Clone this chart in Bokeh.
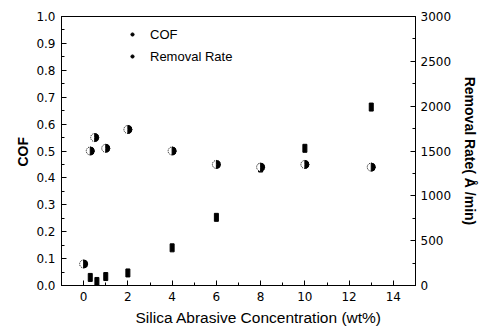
import math
from bokeh.plotting import figure
from bokeh.models import (Range1d, LinearAxis, SingleIntervalTicker, PrintfTickFormatter,
                          Legend, LegendItem, ColumnDataSource, Title)
from bokeh.embed import file_html
from bokeh.resources import INLINE

# Data
cof_x = [0, 0.3, 0.5, 1, 2, 4, 6, 8, 10, 13]
cof_y = [0.08, 0.50, 0.55, 0.51, 0.58, 0.50, 0.45, 0.44, 0.45, 0.44]
rate_x = [0.3, 0.6, 1, 2, 4, 6, 8, 10, 13]
rate_y = [90, 45, 100, 140, 420, 760, 1310, 1530, 1990]

x_label = "Silica Abrasive Concentration (wt%)"
y_label = "COF"
y2_label = "Removal Rate( Å /min)"
series_names = ["COF", "Removal Rate"]

FONT = "DejaVu Sans"
LFONT = "Liberation Sans"

p = figure(width=481, height=332, output_backend="svg", toolbar_location=None,
           x_range=Range1d(-1, 15), y_range=Range1d(0, 1.0),
           min_border_left=61, min_border_right=65, min_border_top=16, min_border_bottom=47)
p.extra_y_ranges = {"rate": Range1d(0, 3000)}
p.grid.visible = False
p.outline_line_color = "black"
p.outline_line_width = 1
p.background_fill_color = "white"
p.border_fill_color = "white"

def style_axis(ax):
    ax.major_tick_in = 5
    ax.major_tick_out = 0
    ax.minor_tick_in = 3
    ax.minor_tick_out = 0
    ax.axis_line_color = "black"
    ax.major_tick_line_color = "black"
    ax.minor_tick_line_color = "black"
    ax.major_label_text_font = FONT
    ax.major_label_text_font_size = "12px"
    ax.major_label_text_color = "black"
    ax.axis_label_text_color = "black"

xa = p.xaxis[0]
xa.ticker = SingleIntervalTicker(interval=2, num_minor_ticks=2)
style_axis(xa)
xa.major_label_standoff = 6

ya = p.yaxis[0]
ya.ticker = SingleIntervalTicker(interval=0.1, num_minor_ticks=2)
ya.formatter = PrintfTickFormatter(format="%.1f")
style_axis(ya)
ya.major_label_standoff = 6

ra = LinearAxis(y_range_name="rate", ticker=SingleIntervalTicker(interval=500, num_minor_ticks=2),
                axis_label=y2_label)
style_axis(ra)
ra.major_label_standoff = 5
ra.axis_label_standoff = 8
ra.axis_label_text_font = LFONT
ra.axis_label_text_font_size = "14px"
ra.axis_label_text_font_style = "bold"
p.add_layout(ra, "right")

# Axis titles
p.add_layout(Title(text=x_label, align="left", offset=74, standoff=6,
                   text_font=LFONT, text_font_size="15.5px", text_font_style="normal",
                   text_color="black"), "below")
p.add_layout(Title(text=y_label, align="left", offset=119, standoff=5,
                   text_font=LFONT, text_font_size="14px", text_font_style="bold",
                   text_color="black"), "left")

# Removal rate markers (black vertical rectangles)
rsrc = ColumnDataSource(dict(x=rate_x, y=rate_y))
p.rect("x", "y", width=4, height=8, width_units="screen", height_units="screen",
       source=rsrc, y_range_name="rate", fill_color="black", line_color="black")

# COF markers (half-filled circles)
csrc = ColumnDataSource(dict(x=cof_x, y=cof_y))
p.scatter("x", "y", source=csrc, size=8, marker="circle", fill_color="white",
          line_color="black", line_width=1, line_dash="1 1")
p.wedge("x", "y", radius=4, radius_units="screen", start_angle=-math.pi/2, end_angle=math.pi/2,
        source=csrc, fill_color="black", line_color="black")

# Legend glyphs
nan = float("nan")
l1 = p.scatter([nan], [nan], size=4, marker="circle", fill_color="black", line_color="black")
l2 = p.scatter([nan], [nan], size=4, marker="circle", fill_color="black", line_color="black")
legend = Legend(items=[LegendItem(label=series_names[0], renderers=[l1]),
                       LegendItem(label=series_names[1], renderers=[l2])],
                location=(67, 218))
legend.border_line_color = None
legend.background_fill_alpha = 0
legend.padding = 0
legend.margin = 0
legend.spacing = 0
legend.label_height = 22
legend.glyph_height = 22
legend.glyph_width = 8
legend.label_standoff = 14
legend.label_text_font = LFONT
legend.label_text_font_size = "13px"
legend.label_text_color = "black"
p.add_layout(legend)

open("out.html", "w").write(file_html(p, INLINE))
